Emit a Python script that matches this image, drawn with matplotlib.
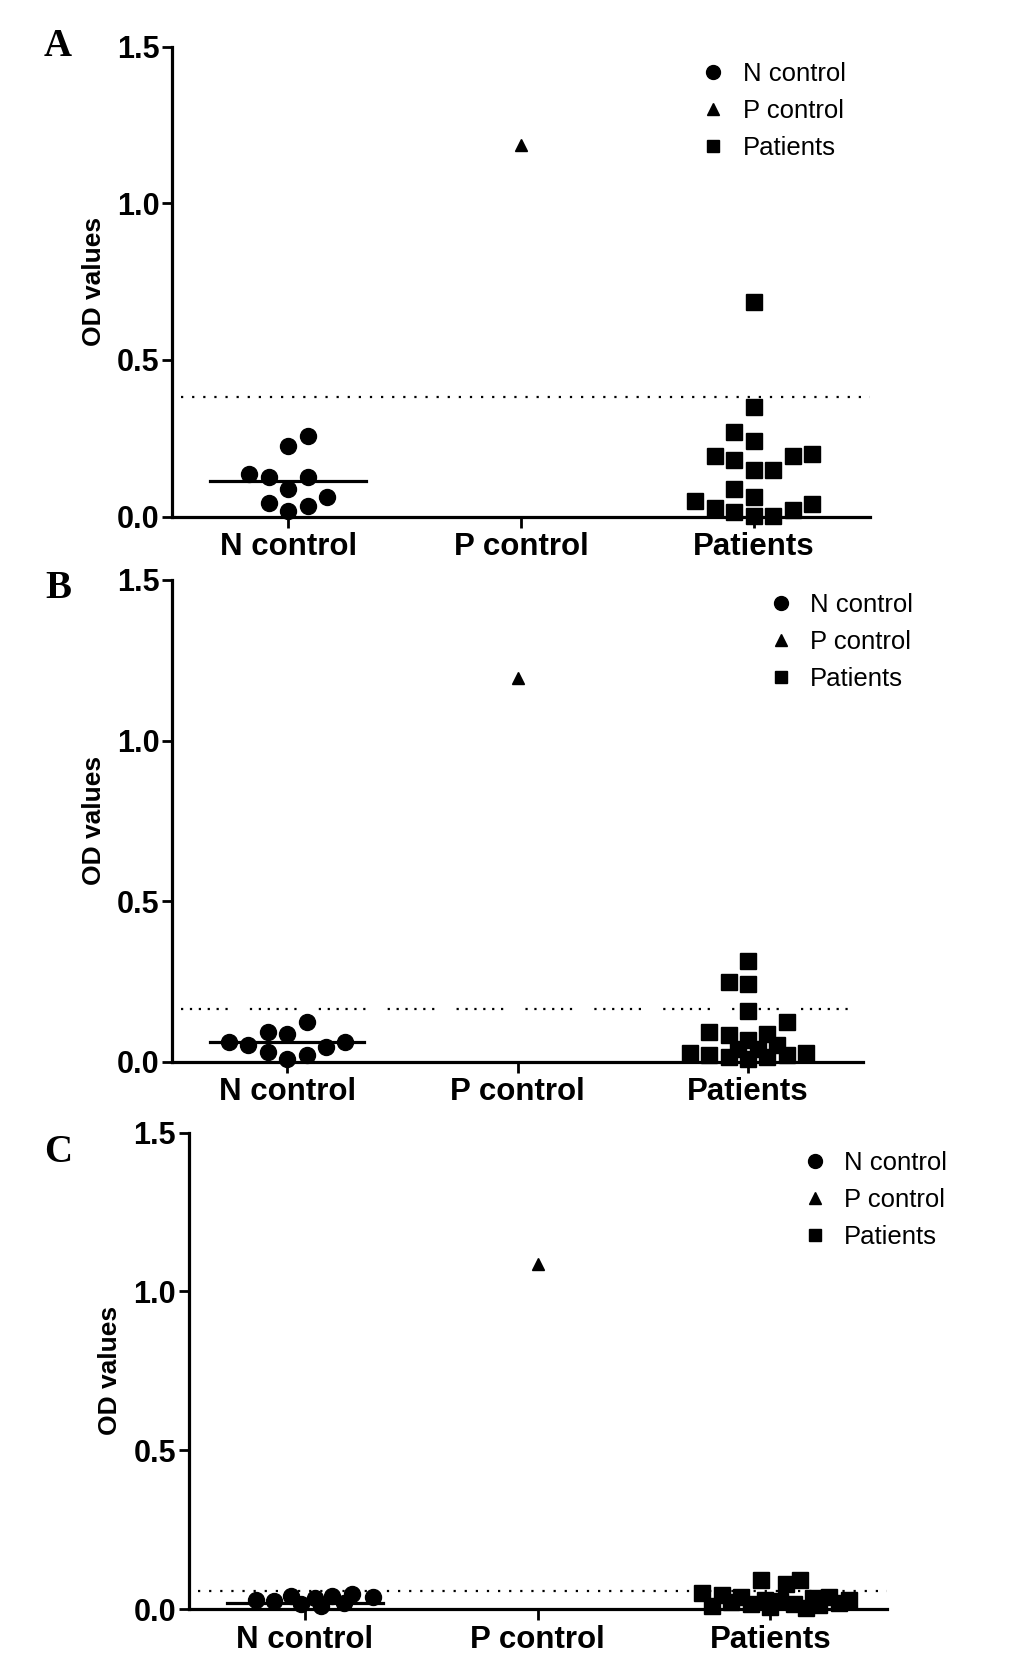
import matplotlib.pyplot as plt
from matplotlib.lines import Line2D

plt.rcParams['font.family'] = ['Liberation Sans', 'DejaVu Sans']

groups = ['N control', 'P control', 'Patients']
y_ticks = [0.0, 0.5, 1.0, 1.5]

# panel A  (slot = column index in the scatter)
a_n = [0.258, 0.226, 0.136, 0.125, 0.128, 0.087, 0.064, 0.045, 0.034, 0.019]
a_n_slot = [1, 0, -2, -1, 1, 0, 2, -1, 1, 0]
a_p = [1.187]
a_pat = [0.684, 0.349, 0.269, 0.242, 0.194, 0.181, 0.192, 0.200, 0.149, 0.149,
         0.087, 0.050, 0.062, 0.041, 0.027, 0.016, 0.021, 0.003, 0.003]
a_pat_slot = [0, 0, -1, 0, -2, -1, 2, 3, 0, 1, -1, -3, 0, 3, -2, -1, 2, 0, 1]
a_median = 0.114
a_cutoff = 0.381

# panel B
b_n = [0.125, 0.093, 0.086, 0.062, 0.052, 0.062, 0.045, 0.031, 0.021, 0.010]
b_n_slot = [1, -1, 0, -3, -2, 3, 2, -1, 1, 0]
b_p = [1.195]
b_pat = [0.315, 0.249, 0.242, 0.159, 0.125, 0.093, 0.083, 0.086, 0.068, 0.052,
         0.026, 0.021, 0.016, 0.026, 0.021, 0.016, 0.040, 0.040, 0.008]
b_pat_slot = [0, -1, 0, 0, 2, -2, -1, 1, 0, 1.5, -3, -2, -1, 3, 2, 1, -0.5, 0.5, 0]
b_median = 0.062
b_cutoff = 0.165

# panel C
c_n = [0.042, 0.048, 0.042, 0.040, 0.036, 0.030, 0.025, 0.020, 0.015, 0.010]
c_n_slot = [-0.7, 2.4, 1.4, 3.5, 0.5, -2.5, -1.6, 2.0, -0.2, 0.8]
c_p = [1.088]
c_pat = [0.092, 0.092, 0.080, 0.050, 0.045, 0.040, 0.038, 0.035, 0.030, 0.028,
         0.025, 0.022, 0.020, 0.018, 0.015, 0.012, 0.010, 0.008, 0.005]
c_pat_slot = [-0.5, 1.5, 0.8, -3.5, -2.5, 3.0, -1.5, 2.2, 4.0, -0.3,
              0.5, -2.0, 3.5, 1.2, -1.0, 2.5, -3.0, 0.0, 1.8]
c_median = 0.019
c_cutoff = 0.056

panels = [
    ('A', [0.1665, 0.6886, 0.6757, 0.2833], a_n, a_n_slot, a_p, a_pat, a_pat_slot,
     a_median, a_cutoff, (0.735, 0.995), 46),
    ('B', [0.1665, 0.3600, 0.6690, 0.2904], b_n, b_n_slot, b_p, b_pat, b_pat_slot,
     b_median, b_cutoff, (0.84, 1.0), 589),
    ('C', [0.1825, 0.0300, 0.6760, 0.2873], c_n, c_n_slot, c_p, c_pat, c_pat_slot,
     c_median, c_cutoff, (0.856, 0.988), 1152),
]

STEP = 0.084  # width of one scatter column, in category units

fig = plt.figure(figsize=(10.33, 16.59), dpi=100)

for letter, rect, n_vals, n_slot, p_vals, pat_vals, pat_slot, med, cut, leg_xy, let_y in panels:
    ax = fig.add_axes(rect)
    ax.set_xlim(-0.5, 2.5)
    ax.set_ylim(0, 1.5)

    ax.plot([0 + s * STEP for s in n_slot], n_vals, 'o', ms=11.5, color='black',
            clip_on=False, zorder=4)
    ax.plot([1] * len(p_vals), p_vals, '^', ms=9, color='black', clip_on=False, zorder=4)
    ax.plot([2 + s * STEP for s in pat_slot], pat_vals, 's', ms=11, color='black',
            clip_on=False, zorder=4)

    # median of the negative controls, cut-off line
    ax.plot([-0.335, 0.335], [med, med], color='black', lw=2.3, zorder=3)
    if letter == 'B':
        ax.plot([-0.46, 2.5], [cut, cut], color='black', lw=1.6,
                ls=(0, (1, 3, 1, 3, 1, 3, 1, 3, 1, 3, 1, 10)))
    else:
        ax.plot([-0.46, 2.5], [cut, cut], color='black', lw=1.6, ls=(0, (1, 4)))

    for side in ['top', 'right']:
        ax.spines[side].set_visible(False)
    for side in ['left', 'bottom']:
        ax.spines[side].set_linewidth(2.3)
    ax.set_yticks(y_ticks)
    ax.set_yticklabels([f'{t:.1f}' for t in y_ticks], fontsize=22, fontweight='bold')
    ax.set_xticks([0, 1, 2])
    ax.set_xticklabels(groups, fontsize=22.5, fontweight='bold')
    ax.tick_params(axis='y', length=7, width=2, pad=2)
    ax.tick_params(axis='x', length=8, width=2, pad=3)
    ax.set_ylabel('OD values', fontsize=19, fontweight='bold', labelpad=8)

    handles = [
        Line2D([], [], ls='none', marker='o', ms=10, color='black'),
        Line2D([], [], ls='none', marker='^', ms=9, color='black'),
        Line2D([], [], ls='none', marker='s', ms=9, color='black'),
    ]
    ax.legend(handles, groups, loc='upper left', bbox_to_anchor=leg_xy, frameon=False,
              fontsize=18.5, handletextpad=0.55, labelspacing=0.5, borderpad=0,
              handlelength=1.2)

    fig.text(58 / 1033, 1 - let_y / 1659, letter, fontsize=28, fontweight='bold',
             family='Liberation Serif', ha='center', va='center')

fig.savefig('out.png', dpi=100)
